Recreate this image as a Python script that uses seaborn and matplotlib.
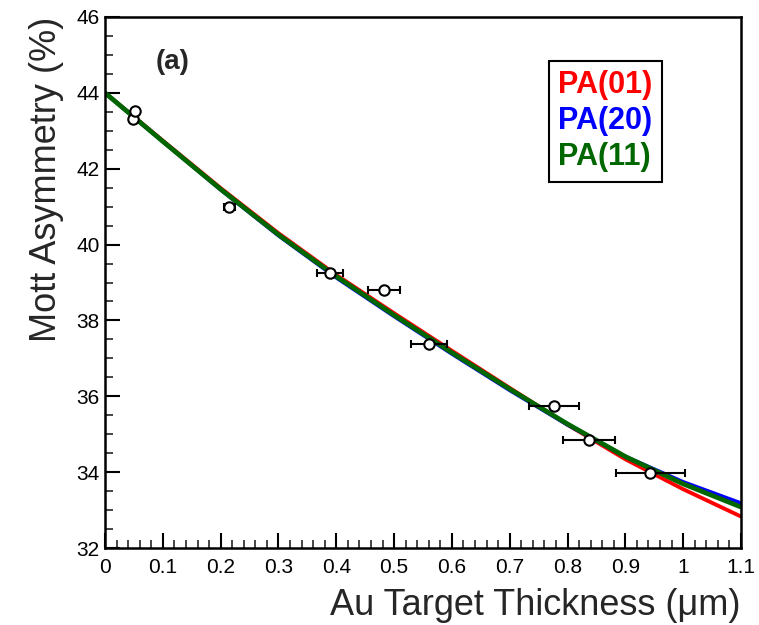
import numpy as np
import pandas as pd
import matplotlib
matplotlib.use("Agg")
import matplotlib.pyplot as plt
from matplotlib.ticker import MultipleLocator
import seaborn as sns

# Measured points
thick = [0.049, 0.052, 0.215, 0.389, 0.483, 0.561, 0.776, 0.837, 0.943]
thick_err = [0.0, 0.0, 0.009, 0.022, 0.028, 0.031, 0.043, 0.045, 0.060]
asym = [43.30, 43.53, 41.00, 39.26, 38.80, 37.37, 35.74, 34.85, 33.97]

# Fit curves
curve_x = [0.0, 0.1, 0.2, 0.3, 0.4, 0.5, 0.6, 0.7, 0.8, 0.9, 1.0, 1.1]
pa01 = [44.00, 42.74, 41.49, 40.30, 39.20, 38.19, 37.20, 36.22, 35.25, 34.34, 33.55, 32.83]
pa20 = [44.00, 42.72, 41.45, 40.24, 39.13, 38.11, 37.12, 36.16, 35.25, 34.41, 33.74, 33.18]
pa11 = [44.00, 42.72, 41.46, 40.26, 39.16, 38.14, 37.15, 36.19, 35.27, 34.41, 33.69, 33.08]

series_names = ["PA(01)", "PA(20)", "PA(11)"]
series_colors = ["#ff0000", "#0000ff", "#006600"]

sns.set_theme(style="ticks")
plt.rcParams['font.family'] = ['Liberation Sans', 'DejaVu Sans']

fig = plt.figure(figsize=(7.59, 6.25), dpi=100)
ax = fig.add_axes([105/759, 77/625, 636/759, 531/625])

for name, vals, col, lw in zip(series_names, [pa01, pa20, pa11], series_colors, [2.8, 2.8, 3.4]):
    df = pd.DataFrame({"x": curve_x, "y": vals})
    sns.lineplot(data=df, x="x", y="y", ax=ax, color=col, linewidth=lw, label=name, zorder=2)

ax.errorbar(thick, asym, xerr=thick_err, fmt='o', mfc='white', mec='black', mew=1.5,
            ms=7.5, ecolor='black', elinewidth=1.5, capsize=3, capthick=1.5, zorder=3)

ax.set_xlim(0, 1.1)
ax.set_ylim(32, 46)
ax.xaxis.set_major_locator(MultipleLocator(0.1))
ax.xaxis.set_minor_locator(MultipleLocator(0.02))
ax.yaxis.set_major_locator(MultipleLocator(2))
ax.yaxis.set_minor_locator(MultipleLocator(0.5))
ax.set_xticks(np.arange(0, 1.1001, 0.1))
ax.set_xticklabels(["0", "0.1", "0.2", "0.3", "0.4", "0.5", "0.6", "0.7", "0.8", "0.9", "1", "1.1"])
ax.tick_params(which='major', direction='in', length=11, width=1.5, labelsize=15,
               top=False, right=False, colors='black')
ax.tick_params(axis='x', which='major', pad=7)
ax.tick_params(axis='y', which='major', pad=4)
ax.tick_params(which='minor', direction='in', length=6, width=1.2, top=False, right=False)
for s in ax.spines.values():
    s.set_linewidth(1.8)
    s.set_color('black')
    s.set_visible(True)

ax.set_xlabel("Au Target Thickness (\u03bcm)", fontsize=26, loc='right', labelpad=8)
ax.set_ylabel("Mott Asymmetry (%)", fontsize=26, loc='top', labelpad=9)

ax.text(0.116, 44.81, "(a)", fontsize=20, fontweight='bold', ha='center', va='center')

leg = ax.legend(loc='upper left', bbox_to_anchor=(0.698, 0.917), handlelength=0,
                handletextpad=0, labelcolor='linecolor', fancybox=False, edgecolor='black',
                framealpha=1, prop={'weight': 'bold', 'size': 22}, labelspacing=0.2,
                borderpad=0.3, borderaxespad=0)
leg.get_frame().set_linewidth(1.5)
for h in leg.legend_handles:
    h.set_visible(False)

fig.savefig("out.png", dpi=100)
